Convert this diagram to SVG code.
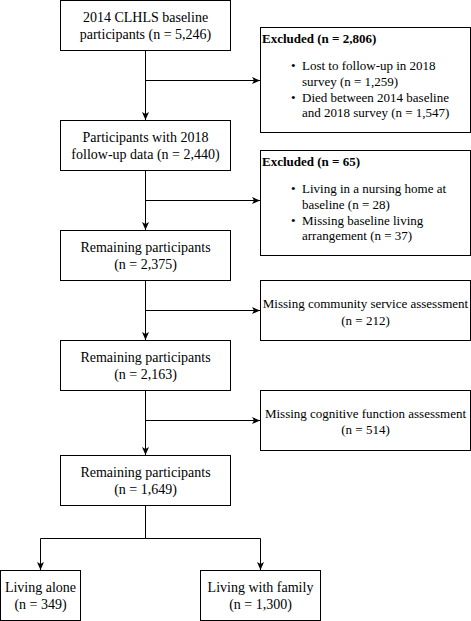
<svg xmlns="http://www.w3.org/2000/svg" width="471" height="621" viewBox="0 0 471 621">
<style>
rect{fill:#fff;stroke:#000;stroke-width:1}
text{font-family:"Liberation Serif","Times New Roman",serif;font-size:14px;fill:#000}
.s text{font-size:13px}
.c{text-anchor:middle}
.b{font-weight:bold}
.e path{fill:none;stroke:#000;stroke-width:1}
</style>
<defs>
<marker id="a" markerUnits="userSpaceOnUse" markerWidth="10" markerHeight="10" viewBox="0 0 10 10" refX="8" refY="4" orient="auto">
<path d="M0,0.5 L8,4 L0,7.5 L2,4 Z" fill="#000" stroke="none"/>
</marker>
</defs>
<rect x="0" y="0" width="471" height="621" style="stroke:none"/>
<g class="e" id="connectors">
<path d="M145.5,50 V120" marker-end="url(#a)"/>
<path d="M145.5,80.5 H260" marker-end="url(#a)"/>
<path d="M145.5,170 V230" marker-end="url(#a)"/>
<path d="M145.5,200.5 H260" marker-end="url(#a)"/>
<path d="M145.5,280 V340" marker-end="url(#a)"/>
<path d="M145.5,310.5 H260" marker-end="url(#a)"/>
<path d="M145.5,390 V455" marker-end="url(#a)"/>
<path d="M145.5,420.5 H260" marker-end="url(#a)"/>
<path d="M145.5,505 V538.5 H40.5 V570" marker-end="url(#a)"/>
<path d="M145.5,538.5 H260.5 V570" marker-end="url(#a)"/>
</g>
<g id="n1">
<rect x="60.5" y="0.5" width="170" height="50"/>
<text class="c" x="145.5" y="22">2014 CLHLS baseline</text>
<text class="c" x="145.5" y="39">participants (n = 5,246)</text>
</g>
<g id="x1" class="s">
<rect x="260.5" y="27.5" width="210" height="105"/>
<text class="b" x="262" y="42.5">Excluded (n = 2,806)</text>
<text x="291" y="69.5">•</text>
<text x="302" y="69.5">Lost to follow-up in 2018</text>
<text x="302" y="85.5">survey (n = 1,259)</text>
<text x="291" y="101.5">•</text>
<text x="302" y="101.5">Died between 2014 baseline</text>
<text x="302" y="116.5">and 2018 survey (n = 1,547)</text>
</g>
<g id="n2">
<rect x="60.5" y="120.5" width="170" height="50"/>
<text class="c" x="145.5" y="142">Participants with 2018</text>
<text class="c" x="145.5" y="159">follow-up data (n = 2,440)</text>
</g>
<g id="x2" class="s">
<rect x="260.5" y="150.5" width="210" height="105"/>
<text class="b" x="262" y="165.5">Excluded (n = 65)</text>
<text x="291" y="192.5">•</text>
<text x="302" y="192.5">Living in a nursing home at</text>
<text x="302" y="208.5">baseline (n = 28)</text>
<text x="291" y="224.5">•</text>
<text x="302" y="224.5">Missing baseline living</text>
<text x="302" y="239.5">arrangement (n = 37)</text>
</g>
<g id="n3">
<rect x="60.5" y="230.5" width="170" height="50"/>
<text class="c" x="145.5" y="252">Remaining participants</text>
<text class="c" x="145.5" y="269">(n = 2,375)</text>
</g>
<g id="x3" class="s">
<rect x="260.5" y="280.5" width="210" height="60"/>
<text class="c" x="365.5" y="307.5">Missing community service assessment</text>
<text class="c" x="365.5" y="324.5">(n = 212)</text>
</g>
<g id="n4">
<rect x="60.5" y="340.5" width="170" height="50"/>
<text class="c" x="145.5" y="362">Remaining participants</text>
<text class="c" x="145.5" y="379">(n = 2,163)</text>
</g>
<g id="x4" class="s">
<rect x="260.5" y="390.5" width="210" height="60"/>
<text class="c" x="365.5" y="417.5">Missing cognitive function assessment</text>
<text class="c" x="365.5" y="434">(n = 514)</text>
</g>
<g id="n5">
<rect x="60.5" y="455.5" width="170" height="50"/>
<text class="c" x="145.5" y="477">Remaining participants</text>
<text class="c" x="145.5" y="494">(n = 1,649)</text>
</g>
<g id="n6">
<rect x="0.5" y="570.5" width="80" height="50"/>
<text class="c" x="40.5" y="592">Living alone</text>
<text class="c" x="40.5" y="609">(n = 349)</text>
</g>
<g id="n7">
<rect x="200.5" y="570.5" width="120" height="50"/>
<text class="c" x="260.5" y="592">Living with family</text>
<text class="c" x="260.5" y="609">(n = 1,300)</text>
</g>
</svg>
